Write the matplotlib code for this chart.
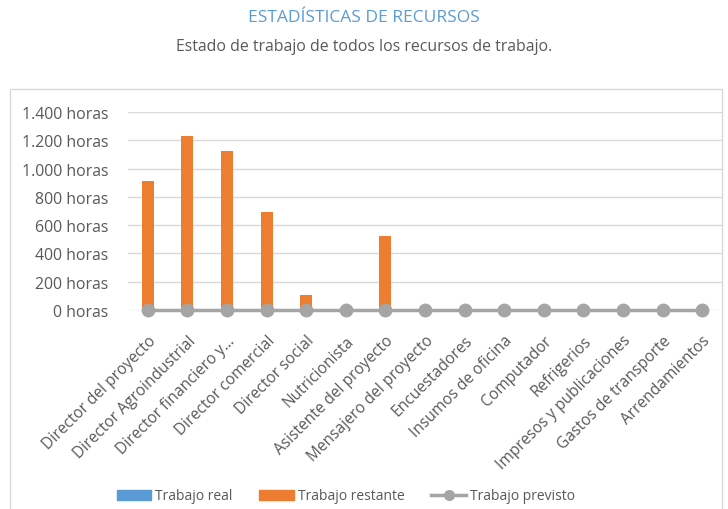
import matplotlib.pyplot as plt
import numpy as np
from matplotlib.lines import Line2D
from matplotlib.patches import Patch, Rectangle

plt.rcParams["font.family"] = ["Open Sans", "DejaVu Sans"]

recursos = [
    "Director del proyecto",
    "Director Agroindustrial",
    "Director financiero y...",
    "Director comercial",
    "Director social",
    "Nutricionista",
    "Asistente del proyecto",
    "Mensajero del proyecto",
    "Encuestadores",
    "Insumos de oficina",
    "Computador",
    "Refrigerios",
    "Impresos y publicaciones",
    "Gastos de transporte",
    "Arrendamientos",
]
trabajo_real = [0, 0, 0, 0, 0, 0, 0, 0, 0, 0, 0, 0, 0, 0, 0]
trabajo_restante = [910, 1230, 1125, 695, 105, 10, 522, 0, 0, 0, 0, 0, 0, 0, 0]
trabajo_previsto = [0, 0, 0, 0, 0, 0, 0, 0, 0, 0, 0, 0, 0, 0, 0]
yticks = [0, 200, 400, 600, 800, 1000, 1200, 1400]

AZUL = "#5B9BD5"
NARANJA = "#ED7D31"
GRIS = "#A5A5A5"
TEXTO = "#595959"

fig = plt.figure(figsize=(7.28, 5.1), dpi=100)
fig.patches.append(Rectangle((10 / 728, -0.05), 712 / 728, 1 - 90 / 510 + 0.05,
                             transform=fig.transFigure, fill=False,
                             edgecolor="#D9D9D9", linewidth=1))

ax = fig.add_axes([128 / 728, 1 - 311 / 510, 594 / 728, 198 / 510])
x = np.arange(len(recursos))
ax.bar(x, trabajo_real, width=0.3, color=AZUL, zorder=2)
ax.bar(x, trabajo_restante, width=0.3, color=NARANJA, zorder=2)
ax.plot(x, trabajo_previsto, color=GRIS, linewidth=2.5, marker="o",
        markersize=9, zorder=3, clip_on=False)

ax.set_xlim(-0.5, len(recursos) - 0.5)
ax.set_ylim(0, 1400)
ax.set_yticks(yticks)
ax.set_yticklabels([f"{v:,} horas".replace(",", ".") for v in yticks])
ax.set_xticks(x)
ax.set_xticklabels(recursos, rotation=45, ha="right", rotation_mode="anchor")
ax.tick_params(axis="both", length=0, colors=TEXTO)
ax.tick_params(axis="y", pad=14, labelsize=11.4)
ax.tick_params(axis="x", pad=16, labelsize=11.2)
ax.grid(axis="y", color="#D9D9D9", linewidth=1, zorder=0)
for s in ax.spines.values():
    s.set_visible(False)

fig.text(0.5, 1 - 18 / 510, "ESTADÍSTICAS DE RECURSOS", ha="center", va="center",
         color=AZUL, fontsize=12.5)
fig.text(0.5, 1 - 47 / 510, "Estado de trabajo de todos los recursos de trabajo.",
         ha="center", va="center", color=TEXTO, fontsize=11.4)

handles = [
    Patch(color=AZUL, label="Trabajo real"),
    Patch(color=NARANJA, label="Trabajo restante"),
    Line2D([], [], color=GRIS, linewidth=2.5, marker="o", markersize=7,
           label="Trabajo previsto"),
]
leg = fig.legend(handles=handles, loc="center", bbox_to_anchor=(0.475, 1 - 497 / 510),
                 ncol=3, frameon=False, fontsize=10, handlelength=2.5,
                 handleheight=0.7, columnspacing=1.9, handletextpad=0.3)
for t in leg.get_texts():
    t.set_color(TEXTO)

fig.savefig("out.png", dpi=100)
